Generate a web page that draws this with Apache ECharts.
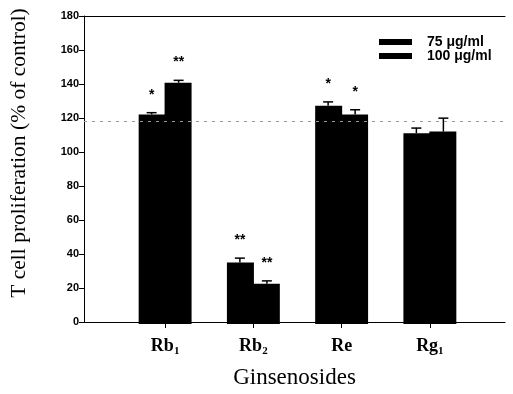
<!DOCTYPE html>
<html><head><meta charset="utf-8">
<script src="https://cdn.jsdelivr.net/npm/echarts@6/dist/echarts.min.js"></script>
<style>html,body{margin:0;padding:0;background:#fff}#c{width:513px;height:394px}</style>
</head><body><div id="c"></div>
<script>
var categories = ['Rb1', 'Rb2', 'Re', 'Rg1'];
var seriesNames = ['75\u00a0\u03bcg/ml', '100\u00a0\u03bcg/ml'];
var v75 = [122.5, 36, 127.5, 111.5];
var e75 = [1.0, 2.5, 2.3, 3.0];
var v100 = [141, 23.5, 122.5, 112.5];
var e100 = [1.4, 1.7, 2.7, 7.8];
var sig75 = ['*', '**', '*', ''];
var sig100 = ['**', '**', '*', ''];
var yTicks = [0, 20, 40, 60, 80, 100, 120, 140, 160, 180];
var refLine = 118;

var chart = echarts.init(document.getElementById('c'), null, {renderer: 'canvas'});
var serif = '"Liberation Serif", "Times New Roman", serif';
var sans = '"Liberation Sans", Arial, sans-serif';

function pairs(vals, errs) { return vals.map(function (v, i) { return [i, v, errs[i]]; }); }

function errRender(sign, sig) {
  return function (params, api) {
    var i = api.value(0), v = api.value(1), e = api.value(2);
    var top = api.coord([i, v + e]);
    var base = api.coord([i, v]);
    var x = top[0] + sign * 13.5;
    var children = [
      {type: 'line', shape: {x1: x, y1: base[1], x2: x, y2: top[1]}, style: {stroke: '#000', lineWidth: 1.5}},
      {type: 'line', shape: {x1: x - 5, y1: top[1], x2: x + 5, y2: top[1]}, style: {stroke: '#000', lineWidth: 1.5}}
    ];
    var s = sig[params.dataIndex];
    if (s) {
      children.push({type: 'text', style: {text: s, x: x, y: top[1] - 18, textAlign: 'center', textVerticalAlign: 'middle',
        font: 'bold 14px ' + sans, fill: '#000'}});
    }
    return {type: 'group', children: children};
  };
}

chart.setOption({
  animation: false,
  backgroundColor: '#fff',
  grid: [
    {left: 76, right: 8, top: 16, bottom: 70},
    {left: 121, right: 39, top: 16, bottom: 70}
  ],
  legend: {
    data: seriesNames,
    orient: 'vertical', left: 379, top: 35, padding: 0,
    itemWidth: 33, itemHeight: 6, itemGap: 0,
    icon: 'rect',
    textStyle: {fontFamily: sans, fontWeight: 'bold', fontSize: 14, color: '#000', padding: [0, 0, 0, 10], lineHeight: 12}
  },
  xAxis: [
    {gridIndex: 0, type: 'value', min: 0, max: 1, position: 'bottom',
      axisLine: {show: true, lineStyle: {color: '#000', width: 1}},
      axisTick: {show: false}, axisLabel: {show: false}, splitLine: {show: false},
      name: 'Ginsenosides', nameLocation: 'middle', nameGap: 44,
      nameTextStyle: {fontFamily: serif, fontSize: 23, color: '#000'}},
    {gridIndex: 0, type: 'value', min: 0, max: 1, position: 'top',
      axisLine: {show: true, lineStyle: {color: '#000', width: 1}},
      axisTick: {show: false}, axisLabel: {show: false}, splitLine: {show: false}},
    {gridIndex: 1, type: 'category', data: categories,
      axisLine: {show: false},
      axisTick: {show: true, alignWithLabel: true, length: 4, lineStyle: {color: '#000'}},
      axisLabel: {margin: 13, color: '#000',
        formatter: function (name) {
          var m = name.match(/^(\D+)(\d*)$/);
          return '{b|' + m[1] + '}' + (m[2] ? '{s|' + m[2] + '}' : '');
        },
        rich: {
          b: {fontFamily: serif, fontWeight: 'bold', fontSize: 18, lineHeight: 18, color: '#000'},
          s: {fontFamily: serif, fontWeight: 'bold', fontSize: 11, lineHeight: 11, padding: [10, 0, 0, 0], color: '#000'}
        }}}
  ],
  yAxis: [
    {gridIndex: 0, type: 'value', min: yTicks[0], max: yTicks[yTicks.length - 1], interval: 20,
      axisLine: {show: true, lineStyle: {color: '#000', width: 1}},
      axisTick: {show: true, inside: false, length: 5, lineStyle: {color: '#000'}},
      axisLabel: {margin: 5, fontFamily: sans, fontWeight: 'bold', fontSize: 11, color: '#000'},
      splitLine: {show: false},
      name: 'T cell proliferation (% of control)', nameLocation: 'middle', nameGap: 54,
      nameTextStyle: {fontFamily: serif, fontSize: 21.5, color: '#000', padding: [0, 0, 0, 32]}},
    {gridIndex: 1, type: 'value', min: yTicks[0], max: yTicks[yTicks.length - 1], show: false}
  ],
  series: [
    {type: 'line', xAxisIndex: 0, yAxisIndex: 0, data: [], silent: true,
      markLine: {silent: true, symbol: 'none', label: {show: false},
        lineStyle: {color: '#999', type: [3, 5], width: 1},
        data: [{yAxis: refLine}]}, z: 1},
    {name: seriesNames[0], type: 'bar', xAxisIndex: 2, yAxisIndex: 1, data: v75,
      barWidth: 27, barGap: '-4%', itemStyle: {color: '#000'}, z: 2},
    {name: seriesNames[1], type: 'bar', xAxisIndex: 2, yAxisIndex: 1, data: v100,
      barWidth: 27, barGap: '-4%', itemStyle: {color: '#000'}, z: 2},
    {type: 'custom', xAxisIndex: 2, yAxisIndex: 1, data: pairs(v75, e75), renderItem: errRender(-1, sig75), z: 3},
    {type: 'custom', xAxisIndex: 2, yAxisIndex: 1, data: pairs(v100, e100), renderItem: errRender(1, sig100), z: 3}
  ]
});
</script></body></html>
